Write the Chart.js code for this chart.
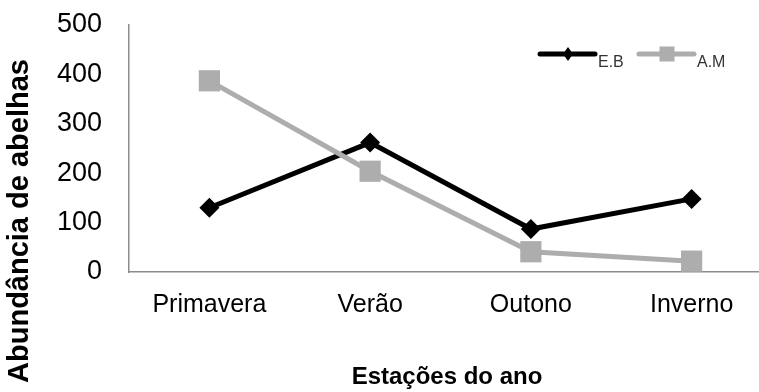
<!DOCTYPE html>
<html>
<head>
<meta charset="utf-8">
<script src="https://cdn.jsdelivr.net/npm/chart.js@4/dist/chart.umd.min.js"></script>
<style>
  html, body { margin: 0; padding: 0; background: #fff; overflow: hidden; }
  #wrap { width: 780px; height: 392px; }
</style>
</head>
<body>
<div id="wrap"><canvas id="grafico" width="780" height="392"></canvas></div>
<script>
// ===== DADOS =====
const estacoes = ['Primavera', 'Verão', 'Outono', 'Inverno'];
const valoresEB = [130, 262, 87, 148];
const valoresAM = [387, 204, 41, 22];
const ticksY = [0, 100, 200, 300, 400, 500];

const FONTE = '"Liberation Sans", Arial, sans-serif';
const COR_EB = '#000000';
const COR_AM = '#adadad';

// Títulos dos eixos e legenda desenhados à mão (estilo Excel)
const pluginExtras = {
  id: 'extras',
  afterDraw(chart) {
    const ctx = chart.ctx;
    ctx.save();
    ctx.fillStyle = '#000';
    ctx.textAlign = 'center';
    ctx.textBaseline = 'middle';

    // título eixo Y
    ctx.font = 'bold 29px ' + FONTE;
    ctx.translate(20, 221);
    ctx.rotate(-Math.PI / 2);
    ctx.fillText('Abundância de abelhas', 0, 0);
    ctx.setTransform(1, 0, 0, 1, 0, 0);

    // título eixo X
    ctx.font = 'bold 24px ' + FONTE;
    ctx.fillText('Estações do ano', 447, 377);

    // legenda
    const itens = [
      { ds: chart.data.datasets[0], x: 540 },
      { ds: chart.data.datasets[1], x: 639 }
    ];
    ctx.font = '16px ' + FONTE;
    ctx.textAlign = 'left';
    ctx.textBaseline = 'alphabetic';
    itens.forEach(({ ds, x }) => {
      const y = 54;
      ctx.strokeStyle = ds.borderColor;
      ctx.lineWidth = 5;
      ctx.lineCap = 'round';
      ctx.beginPath();
      ctx.moveTo(x, y);
      ctx.lineTo(x + 55, y);
      ctx.stroke();
      ctx.fillStyle = ds.borderColor;
      const cx = x + 28;
      ctx.beginPath();
      if (ds.pointStyle === 'rectRot') {
        ctx.moveTo(cx - 5, y);
        ctx.lineTo(cx, y - 7);
        ctx.lineTo(cx + 5, y);
        ctx.lineTo(cx, y + 7);
        ctx.closePath();
      } else {
        ctx.rect(cx - 7.5, y - 7.5, 15, 15);
      }
      ctx.fill();
      ctx.fillStyle = '#333';
      ctx.fillText(ds.label, x + 58, 67);
    });
    ctx.restore();
  }
};

// zera o padding extra que o Chart.js reserva pros rótulos
function travarPadding(scale) {
  scale.paddingTop = 0;
  scale.paddingBottom = 0;
  scale.paddingLeft = 0;
  scale.paddingRight = 0;
}

new Chart(document.getElementById('grafico'), {
  type: 'line',
  data: {
    labels: estacoes,
    datasets: [
      {
        label: 'E.B',
        data: valoresEB,
        borderColor: COR_EB,
        backgroundColor: COR_EB,
        borderWidth: 5,
        pointStyle: 'rectRot',
        pointRadius: 10,
        pointBorderWidth: 0,
        order: 1
      },
      {
        label: 'A.M',
        data: valoresAM,
        borderColor: COR_AM,
        backgroundColor: COR_AM,
        borderWidth: 5,
        pointStyle: 'rect',
        pointRadius: 15,
        pointBorderWidth: 0,
        order: 0
      }
    ]
  },
  options: {
    responsive: false,
    animation: false,
    layout: { autoPadding: false, padding: { top: 25, right: 8, left: 0, bottom: 0 } },
    plugins: {
      legend: { display: false },
      tooltip: { enabled: false }
    },
    scales: {
      x: {
        offset: true,
        grid: { display: false, drawTicks: false, offset: true },
        border: { color: '#8c8c8c', width: 1.5 },
        ticks: {
          color: '#000',
          font: { family: FONTE, size: 25 },
          padding: 18,
          maxRotation: 0,
          autoSkip: false
        },
        afterFit(scale) { scale.height = 120; travarPadding(scale); }
      },
      y: {
        min: 0,
        max: 500,
        grid: { display: false, drawTicks: false },
        border: { color: '#8c8c8c', width: 1.5 },
        afterBuildTicks(scale) { scale.ticks = ticksY.map(v => ({ value: v })); },
        ticks: {
          color: '#000',
          font: { family: FONTE, size: 27 },
          padding: 27
        },
        afterFit(scale) { scale.width = 129; travarPadding(scale); }
      }
    }
  },
  plugins: [pluginExtras]
});
</script>
</body>
</html>
